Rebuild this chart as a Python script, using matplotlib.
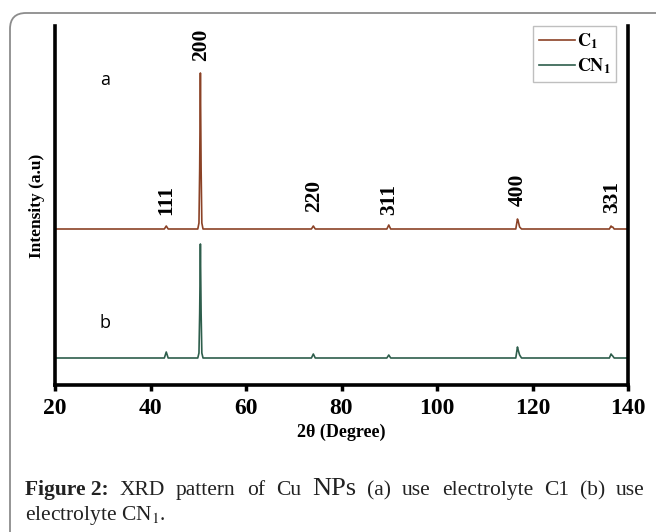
import matplotlib
matplotlib.use("Agg")
import matplotlib.pyplot as plt
from matplotlib.patches import FancyBboxPatch

# XRD data (2theta in degrees, intensity in a.u.)
two_theta = [20, 42.9, 43.3, 43.7, 49.9, 50.15, 50.3, 50.45, 50.6, 50.75, 51.0,
             73.7, 74.1, 74.5, 89.5, 89.9, 90.3, 116.5, 116.85, 117.0, 117.3, 117.7,
             136.1, 136.45, 136.6, 136.8, 137.1, 140]
int_c1 = [0, 0, 3, 0, 0, 6, 60, 156, 60, 6, 0,
          0, 3, 0, 0, 4, 0, 0, 10, 8, 2, 0,
          0, 3, 2, 2, 0, 0]
int_cn1 = [0, 0, 6, 0, 0, 5, 45, 114, 45, 5, 0,
           0, 4, 0, 0, 3, 0, 0, 11, 8, 3, 0,
           0, 4, 3, 2, 0, 0]
offset_c1 = 129
offset_cn1 = 0

# hkl labels
hkl = ["111", "200", "220", "311", "400", "331"]
hkl_pos = [43.2, 50.6, 74.2, 90.0, 117.0, 136.6]
hkl_y = [143, 297, 146, 143, 152, 145]

W, H = 656, 532
fig = plt.figure(figsize=(W / 100, H / 100), dpi=100)
plt.rcParams['mathtext.fontset'] = 'stix'

# rounded frame around the figure
frame = FancyBboxPatch((10 / 100, -0.5), 7.0, (H - 13) / 100 + 0.5,
                       boxstyle="round,pad=0,rounding_size=0.16",
                       transform=fig.dpi_scale_trans, fill=False,
                       edgecolor='#8c8c8c', linewidth=1.3)
fig.add_artist(frame)

ax = fig.add_axes([55 / W, (H - 385) / H, (628 - 55) / W, (385 - 26) / H])

c1_color = '#8B4226'
cn1_color = '#2E5E4C'
ax.plot(two_theta, [v + offset_c1 for v in int_c1], color=c1_color, lw=1.2, label=r'$\mathbf{C_1}$')
ax.plot(two_theta, [v + offset_cn1 for v in int_cn1], color=cn1_color, lw=1.2, label=r'$\mathbf{CN_1}$')

ax.set_xlim(20, 140)
ax.set_ylim(-27, 332)
ax.set_xticks([20, 40, 60, 80, 100, 120, 140])
ax.set_yticks([])
for lbl in ax.get_xticklabels():
    lbl.set_fontfamily('Liberation Serif')
    lbl.set_fontweight('bold')
    lbl.set_fontsize(17)
ax.tick_params(axis='x', direction='out', length=4, width=2.5, pad=5)

ax.spines['top'].set_visible(False)
for s in ['left', 'right', 'bottom']:
    ax.spines[s].set_linewidth(2.6)

for name, x, y in zip(hkl, hkl_pos, hkl_y):
    ax.text(x, y, name, rotation=90, ha='center', va='bottom',
            family='Liberation Serif', fontweight='bold', fontsize=15.5)

ax.text(30.5, 278, 'a', ha='center', va='center', family='Open Sans', fontsize=13)
ax.text(30.5, 35, 'b', ha='center', va='center', family='Open Sans', fontsize=13)

ax.set_ylabel('Intensity (a.u)', family='Liberation Serif', fontweight='bold', fontsize=12.5, labelpad=7)
ax.set_xlabel('2θ (Degree)', family='Liberation Serif', fontweight='bold', fontsize=13, labelpad=4)

leg = ax.legend(loc='upper right', bbox_to_anchor=(0.979, 1.0), borderaxespad=0,
                fancybox=False, edgecolor='#b0b0b0', fontsize=13, handlelength=2.0,
                handletextpad=0.1, labelspacing=0.3, borderpad=0.3)
leg.get_frame().set_linewidth(1.0)

# caption, first line justified between x=25 and x=645
words = [("Figure 2:", 'bold', 15.5), ("XRD", 'normal', 15.5),
         ("pattern", 'normal', 15.5), ("of", 'normal', 15.5),
         ("Cu", 'normal', 15.5), ("NPs", 'normal', 19),
         ("(a)", 'normal', 15.5), ("use", 'normal', 15.5),
         ("electrolyte", 'normal', 15.5), ("C1", 'normal', 15.5),
         ("(b)", 'normal', 15.5), ("use", 'normal', 15.5)]
renderer = fig.canvas.get_renderer()
texts = []
for txt, wt, fs in words:
    t = fig.text(0, (H - 495) / H, txt, ha='left', va='baseline',
                 family='Liberation Serif', fontweight=wt, fontsize=fs, color='#222222')
    texts.append(t)
widths = [t.get_window_extent(renderer).width for t in texts]
gap = (645 - 25 - sum(widths)) / (len(texts) - 1)
x = 25
for t, w in zip(texts, widths):
    t.set_x(x / W)
    x += w + gap
fig.text(25 / W, (H - 520) / H, "electrolyte CN$_{1}$.", ha='left', va='baseline',
         family='Liberation Serif', fontsize=15.5, color='#222222')

fig.savefig('out.png', dpi=100)
